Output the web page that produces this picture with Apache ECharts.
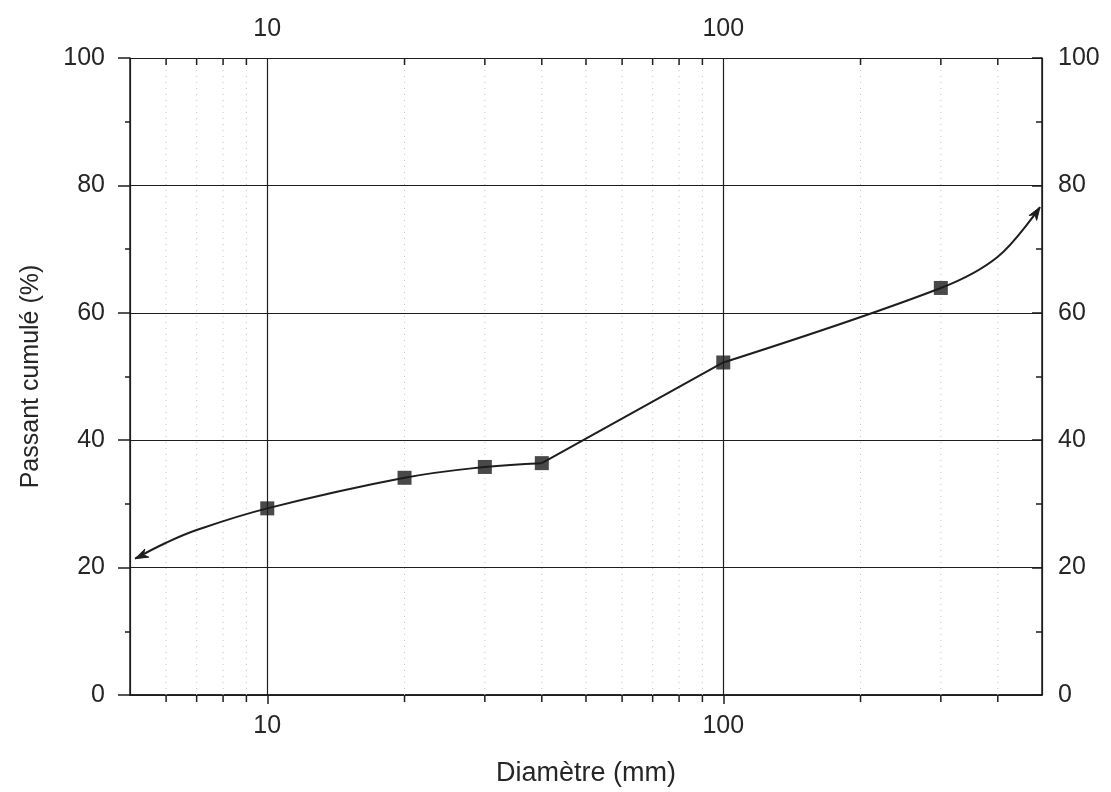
<!DOCTYPE html>
<html>
<head>
<meta charset="utf-8">
<script src="https://cdn.jsdelivr.net/npm/echarts@6/dist/echarts.min.js"></script>
<style>
html,body{margin:0;padding:0;background:#fff;}
#chart{width:1111px;height:792px;}
</style>
</head>
<body>
<div id="chart"></div>
<script>
// ---- data ----
const measuredX = [10, 20, 30, 40, 100, 300];
const measuredY = [29.3, 34.1, 35.8, 36.4, 52.2, 63.9];
// hand-drawn fitted curve (three pieces)
const curveLeftX = [5.13, 6, 7, 10, 20, 30, 40];
const curveLeftY = [21.4, 23.9, 25.9, 29.3, 34.1, 35.8, 36.4];
const curveMidX = [40, 100];
const curveMidY = [36.4, 52.2];
const curveRightX = [100, 300, 400, 495];
const curveRightY = [52.2, 63.9, 68.8, 76.6];
// arrow heads: [tipX, tipY, fromX, fromY]
const arrowTips = [[5.13, 21.4, 5.6, 22.7], [495, 76.6, 455, 72.6]];
// minor log ticks / dotted grid
const minorTicks = [6, 7, 8, 9, 20, 30, 40, 50, 60, 70, 80, 90, 200, 300, 400];
const xMin = 5, xMax = 500;
const yMin = 0, yMax = 100, yStep = 20;

const zip = (a, b) => a.map((v, i) => [v, b[i]]);
const FONT = '"Liberation Sans", Arial, Helvetica, sans-serif';
const INK = '#1e1e1e';
const TXT = '#262626';

const chart = echarts.init(document.getElementById('chart'), null, {renderer: 'canvas'});

const lineStyle = {color: INK, width: 2};

const option = {
  backgroundColor: '#fff',
  animation: false,
  textStyle: {fontFamily: FONT},
  grid: {left: 130, right: 69, top: 58, bottom: 97, containLabel: false},
  xAxis: [
    {
      type: 'log', logBase: 10, min: xMin, max: xMax, position: 'bottom',
      name: 'Diamètre (mm)', nameLocation: 'middle', nameGap: 65,
      nameTextStyle: {fontSize: 27, color: TXT, fontFamily: FONT},
      axisLine: {show: true, lineStyle: {color: INK, width: 1.5}},
      axisTick: {show: true, inside: false, length: 9, lineStyle: {color: INK, width: 1.5}},
      axisLabel: {fontSize: 25, color: TXT, margin: 19, showMinLabel: false, showMaxLabel: false, fontFamily: FONT},
      splitLine: {show: true, lineStyle: {color: INK, width: 1.2}}
    },
    {
      type: 'log', logBase: 10, min: xMin, max: xMax, position: 'top',
      axisLine: {show: true, lineStyle: {color: INK, width: 1.5}},
      axisTick: {show: true, inside: true, length: 9, lineStyle: {color: INK, width: 1.5}},
      axisLabel: {fontSize: 25, color: TXT, margin: 16, showMinLabel: false, showMaxLabel: false, fontFamily: FONT},
      splitLine: {show: false}
    }
  ],
  yAxis: [
    {
      type: 'value', min: yMin, max: yMax, interval: yStep, position: 'left',
      name: 'Passant cumulé (%)', nameLocation: 'middle', nameGap: 86,
      nameTextStyle: {fontSize: 25, color: TXT, fontFamily: FONT},
      axisLine: {show: true, lineStyle: {color: INK, width: 1.5}},
      axisTick: {show: true, inside: false, length: 12, lineStyle: {color: INK, width: 1.5}},
      minorTick: {show: true, splitNumber: 2, length: 5, lineStyle: {color: INK, width: 1.5}},
      axisLabel: {fontSize: 25, color: TXT, margin: 25, fontFamily: FONT},
      splitLine: {show: true, lineStyle: {color: INK, width: 1.2}}
    },
    {
      type: 'value', min: yMin, max: yMax, interval: yStep, position: 'right',
      axisLine: {show: true, lineStyle: {color: INK, width: 1.5}},
      axisTick: {show: true, inside: true, length: 10, lineStyle: {color: INK, width: 1.5}},
      minorTick: {show: true, splitNumber: 2, length: 6, lineStyle: {color: INK, width: 1.5}},
      axisLabel: {fontSize: 25, color: TXT, margin: 16, fontFamily: FONT},
      splitLine: {show: false}
    }
  ],
  series: [
    {
      type: 'custom', name: 'minor', coordinateSystem: 'cartesian2d',
      xAxisIndex: 0, yAxisIndex: 0, silent: true, z: 1,
      data: minorTicks.map(v => [v, yMin]),
      renderItem: function (params, api) {
        const v = api.value(0);
        const p0 = api.coord([v, yMin]);
        const p1 = api.coord([v, yMax]);
        return {
          type: 'group',
          children: [
            {type: 'line', shape: {x1: p0[0], y1: p0[1], x2: p1[0], y2: p1[1]},
             style: {stroke: '#c4c4c4', lineWidth: 1, lineDash: [1, 5]}},
            {type: 'line', shape: {x1: p0[0], y1: p0[1], x2: p0[0], y2: p0[1] + 7},
             style: {stroke: INK, lineWidth: 1.5}},
            {type: 'line', shape: {x1: p1[0], y1: p1[1], x2: p1[0], y2: p1[1] + 7},
             style: {stroke: INK, lineWidth: 1.5}}
          ]
        };
      }
    },
    {type: 'line', data: zip(curveLeftX, curveLeftY), smooth: 0.4, showSymbol: false, symbol: 'none', lineStyle: lineStyle, z: 3, silent: true},
    {type: 'line', data: zip(curveMidX, curveMidY), smooth: false, showSymbol: false, symbol: 'none', lineStyle: lineStyle, z: 3, silent: true},
    {type: 'line', data: zip(curveRightX, curveRightY), smooth: 0.35, showSymbol: false, symbol: 'none', lineStyle: lineStyle, z: 3, silent: true},
    {
      type: 'custom', coordinateSystem: 'cartesian2d', silent: true, z: 4,
      data: arrowTips,
      renderItem: function (params, api) {
        const tip = api.coord([api.value(0), api.value(1)]);
        const from = api.coord([api.value(2), api.value(3)]);
        let dx = tip[0] - from[0], dy = tip[1] - from[1];
        const len = Math.sqrt(dx * dx + dy * dy) || 1;
        dx /= len; dy /= len;
        const L = 13, W = 4.5;
        const bx = tip[0] - dx * L, by = tip[1] - dy * L;
        const nx = tip[0] - dx * L * 0.7, ny = tip[1] - dy * L * 0.7;
        return {
          type: 'polygon',
          shape: {points: [[tip[0], tip[1]], [bx - dy * W, by + dx * W], [nx, ny], [bx + dy * W, by - dx * W]]},
          style: {fill: INK, stroke: INK, lineWidth: 1}
        };
      }
    },
    {
      type: 'scatter', data: zip(measuredX, measuredY), symbol: 'rect', symbolSize: 14,
      itemStyle: {color: '#1b1b1b'}, z: 5, silent: true
    }
  ]
};
chart.setOption(option);
</script>
</body>
</html>
